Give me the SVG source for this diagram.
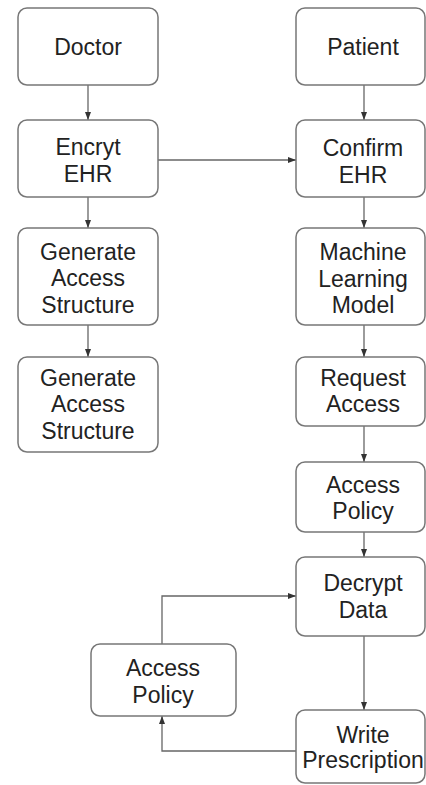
<svg xmlns="http://www.w3.org/2000/svg" width="426" height="785" viewBox="0 0 426 785">
<style>
.box{fill:#fff;stroke:#777;stroke-width:1.5}
.t{font-family:"Liberation Sans",Arial,sans-serif;font-size:23px;fill:#222;text-anchor:middle}
.c{fill:none;stroke:#666;stroke-width:1.3}
</style>
<defs>
<marker id="ah" markerUnits="userSpaceOnUse" markerWidth="8" markerHeight="6" refX="8" refY="3" orient="auto">
<path d="M0,0 L8,3 L0,6 z" fill="#333"/>
</marker>
</defs>
<rect width="426" height="785" fill="#fff"/>
<g id="connectors">
<path class="c" d="M88,85 V120" marker-end="url(#ah)"/>
<path class="c" d="M88,197 V228" marker-end="url(#ah)"/>
<path class="c" d="M88,325 V357" marker-end="url(#ah)"/>
<path class="c" d="M158,160 H296" marker-end="url(#ah)"/>
<path class="c" d="M364,85 V120" marker-end="url(#ah)"/>
<path class="c" d="M364,197 V228" marker-end="url(#ah)"/>
<path class="c" d="M364,325 V357" marker-end="url(#ah)"/>
<path class="c" d="M364,426 V462" marker-end="url(#ah)"/>
<path class="c" d="M364,532 V557" marker-end="url(#ah)"/>
<path class="c" d="M364,636 V710" marker-end="url(#ah)"/>
<path class="c" d="M162,644 V596 H296" marker-end="url(#ah)"/>
<path class="c" d="M297,751 H162 V716" marker-end="url(#ah)"/>
</g>
<g id="doctor"><rect class="box" x="18" y="8" width="140" height="77" rx="9"/><text class="t" x="88" y="55">Doctor</text></g>
<g id="encrypt"><rect class="box" x="18" y="120" width="140" height="77" rx="9"/><text class="t" x="88" y="155">Encryt</text><text class="t" x="88" y="182">EHR</text></g>
<g id="gen1"><rect class="box" x="18" y="228" width="140" height="97" rx="9"/><text class="t" x="88" y="260">Generate</text><text class="t" x="88" y="286">Access</text><text class="t" x="88" y="313">Structure</text></g>
<g id="gen2"><rect class="box" x="18" y="357" width="140" height="95" rx="9"/><text class="t" x="88" y="386">Generate</text><text class="t" x="88" y="412">Access</text><text class="t" x="88" y="439">Structure</text></g>
<g id="patient"><rect class="box" x="296" y="8" width="129" height="77" rx="9"/><text class="t" x="363" y="55">Patient</text></g>
<g id="confirm"><rect class="box" x="296" y="120" width="129" height="77" rx="9"/><text class="t" x="363" y="156">Confirm</text><text class="t" x="363" y="183">EHR</text></g>
<g id="ml"><rect class="box" x="296" y="228" width="129" height="97" rx="9"/><text class="t" x="363" y="260">Machine</text><text class="t" x="363" y="287">Learning</text><text class="t" x="363" y="313">Model</text></g>
<g id="request"><rect class="box" x="296" y="357" width="129" height="69" rx="9"/><text class="t" x="363" y="386">Request</text><text class="t" x="363" y="412">Access</text></g>
<g id="policy1"><rect class="box" x="296" y="462" width="129" height="70" rx="9"/><text class="t" x="363" y="493">Access</text><text class="t" x="363" y="519">Policy</text></g>
<g id="decrypt"><rect class="box" x="296" y="557" width="129" height="79" rx="9"/><text class="t" x="363" y="591">Decrypt</text><text class="t" x="363" y="618">Data</text></g>
<g id="write"><rect class="box" x="296" y="710" width="129" height="73" rx="9"/><text class="t" x="363" y="743">Write</text><text class="t" x="363" y="768">Prescription</text></g>
<g id="policy2"><rect class="box" x="91" y="644" width="145" height="72" rx="9"/><text class="t" x="163" y="676">Access</text><text class="t" x="163" y="703">Policy</text></g>
</svg>
